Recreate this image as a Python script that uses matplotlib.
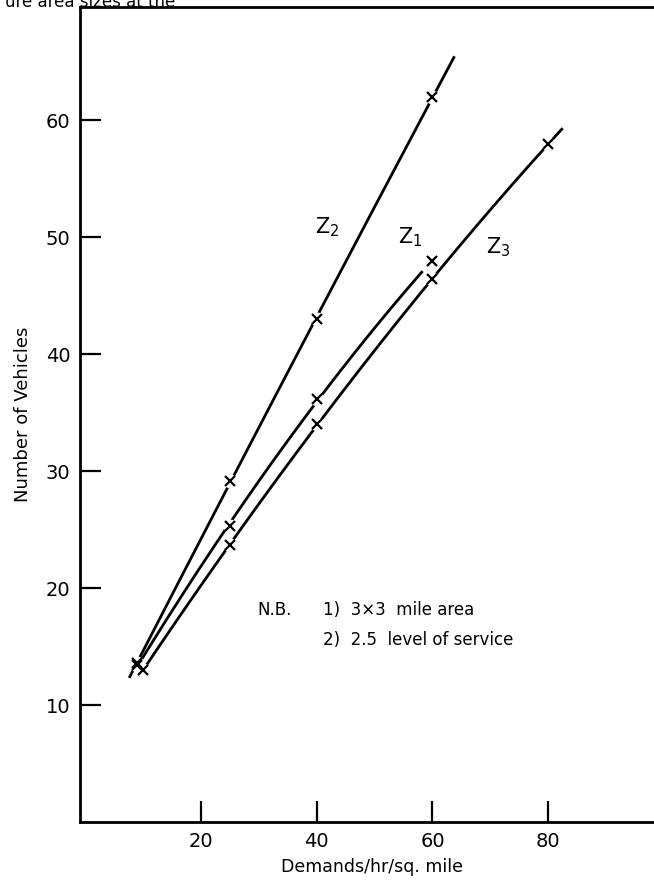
import numpy as np
import matplotlib
matplotlib.use("Agg")
import matplotlib.pyplot as plt

# Data
z2_x = [9, 25, 40, 60]
z2_y = [13.6, 29.2, 43.0, 62.0]
z1_x = [9, 25, 40, 60]
z1_y = [13.4, 25.3, 36.2, 48.0]
z3_x = [10, 25, 40, 60, 80]
z3_y = [13.0, 23.7, 34.0, 46.4, 58.0]
# extent of each drawn curve along x
z2_range = (7.6, 63.8)
z1_range = (9.0, 58.3)
z3_range = (9.3, 82.5)

x_ticks = [20, 40, 60, 80]
y_ticks = [10, 20, 30, 40, 50, 60]

plt.rcParams['font.family'] = ['DejaVu Sans']
fig = plt.figure(figsize=(6.54, 8.82), dpi=100)
W, H = 654, 882
left_px, right_px, top_px, bot_px = 80, 664, 7, 822
ax = fig.add_axes([left_px / W, 1 - bot_px / H, (right_px - left_px) / W, (bot_px - top_px) / H])
ax.set_xlim(-0.9, 100)
ax.set_ylim(0, 69.7)
for s in ['left', 'bottom', 'top']:
    ax.spines[s].set_linewidth(2.0)
ax.spines['right'].set_visible(False)

ax.set_xticks(x_ticks)
ax.set_yticks(y_ticks)
ax.tick_params(direction='in', length=15, width=1.6, labelsize=14, pad=7)
ax.set_xlabel('Demands/hr/sq. mile', fontsize=12.5, labelpad=5)
ax.set_ylabel('Number of Vehicles', fontsize=13, labelpad=10)

def draw_curve(xs, ys, rng, deg):
    coef = np.polyfit(xs, ys, deg)
    xx = np.linspace(rng[0], rng[1], 300)
    ax.plot(xx, np.polyval(coef, xx), color='black', lw=2.0, solid_capstyle='butt', zorder=2)

draw_curve(z2_x, z2_y, z2_range, 2)
draw_curve(z1_x, z1_y, z1_range, 2)
draw_curve(z3_x, z3_y, z3_range, 2)

for xs, ys in [(z2_x, z2_y), (z1_x, z1_y), (z3_x, z3_y)]:
    ax.plot(xs, ys, linestyle='none', marker='o', markersize=10, markerfacecolor='white',
            markeredgecolor='none', zorder=3)
for xs, ys in [(z2_x, z2_y), (z1_x, z1_y), (z3_x, z3_y)]:
    ax.plot(xs, ys, linestyle='none', marker='x', markersize=7, markeredgewidth=1.6,
            color='black', zorder=4)

ax.text(41.8, 50.9, r'Z$_2$', fontsize=15, ha='center', va='center')
ax.text(56.2, 50.0, r'Z$_1$', fontsize=15, ha='center', va='center')
ax.text(71.4, 49.2, r'Z$_3$', fontsize=15, ha='center', va='center')

ax.text(29.7, 18.1, 'N.B.', fontsize=12, ha='left', va='center')
ax.text(41.0, 18.1, '1)  3×3  mile area', fontsize=12, ha='left', va='center')
ax.text(41.0, 15.6, '2)  2.5  level of service', fontsize=12, ha='left', va='center')

fig.text(5 / W, 1 - 2 / H, 'ure area sizes at the', fontsize=12, ha='left', va='center')

fig.savefig('out.png', dpi=100)
